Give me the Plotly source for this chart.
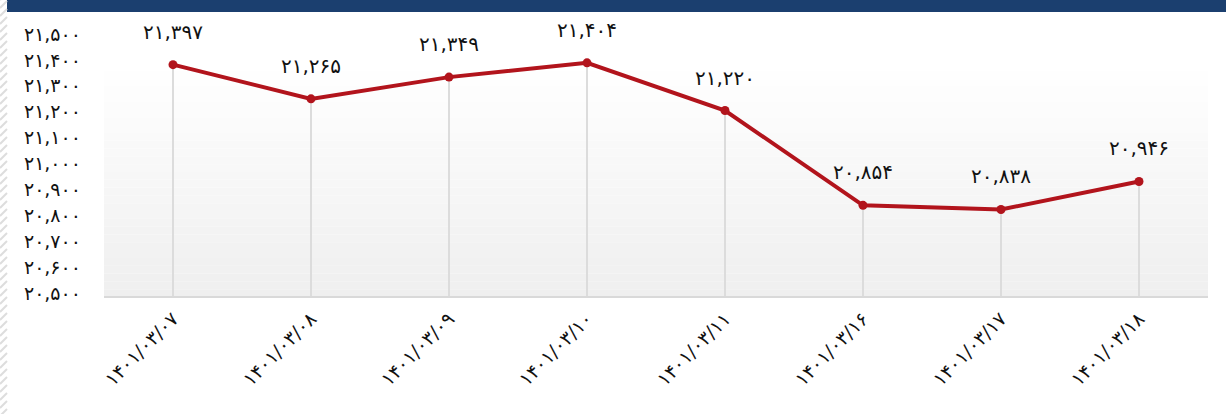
import plotly.graph_objects as go

# ---- data ----
dates = ["1401/03/07", "1401/03/08", "1401/03/09", "1401/03/10",
         "1401/03/11", "1401/03/16", "1401/03/17", "1401/03/18"]
values = [21397, 21265, 21349, 21404, 21220, 20854, 20838, 20946]
y_ticks = [20500, 20600, 20700, 20800, 20900, 21000, 21100, 21200, 21300, 21400, 21500]
y_min, y_max = 20500, 21500

FA = str.maketrans("0123456789", "۰۱۲۳۴۵۶۷۸۹")


def fa(s):
    return str(s).translate(FA)


def fa_num(v):
    return fa(f"{v:,}")


W, H = 1226, 414
L, R, T, B = 104, 1208, 38, 297
FONT = "DejaVu Sans"


def px_x(p):
    return (p - L) / (R - L)


def px_y(p):
    return (B - p) / (B - T)


fig = go.Figure()

# drop lines
fig.add_trace(go.Scatter(
    x=dates, y=values, mode="markers",
    marker=dict(size=0.1, color="rgba(0,0,0,0)"),
    error_y=dict(type="data", symmetric=False,
                 array=[0] * len(values),
                 arrayminus=[v - y_min for v in values],
                 color="#dcdcdc", thickness=2, width=0),
    hoverinfo="skip", showlegend=False,
))

# main line
fig.add_trace(go.Scatter(
    x=dates, y=values, mode="lines+markers",
    line=dict(color="#B2141C", width=4),
    marker=dict(color="#B2141C", size=9),
    showlegend=False,
))

# data labels
for d, v in zip(dates, values):
    fig.add_annotation(x=d, y=v, text=fa_num(v), showarrow=False,
                       yshift=33, font=dict(size=20, color="#111111", family=FONT))

shapes = []
# plot background gradient
n = 30
g_top = 0.905
for i in range(n):
    y0 = g_top * i / n
    y1 = g_top * (i + 1) / n
    t = i / (n - 1)  # 0 bottom -> 1 top
    c = int(round(239 + (255 - 239) * t))
    shapes.append(dict(type="rect", xref="x domain", yref="y domain",
                       x0=0, x1=1, y0=y0, y1=y1, layer="below",
                       line=dict(width=0), fillcolor=f"rgb({c},{c},{c})"))
# bottom axis line
shapes.append(dict(type="line", xref="x domain", yref="y domain",
                   x0=0, x1=1, y0=0, y1=0, line=dict(color="#d9d9d9", width=2)))
# top blue bar
shapes.append(dict(type="rect", xref="paper", yref="paper",
                   x0=px_x(7), x1=px_x(W), y0=px_y(12), y1=px_y(0),
                   line=dict(width=0), fillcolor="#1B3F6F"))
# left hatched strip
for yy in range(-8, H + 16, 8):
    shapes.append(dict(type="line", xref="paper", yref="paper",
                       x0=px_x(0), x1=px_x(7), y0=px_y(yy), y1=px_y(yy - 7),
                       line=dict(color="#dddddd", width=2)))

fig.update_layout(
    width=W, height=H,
    margin=dict(l=L, r=W - R, t=T, b=H - B, autoexpand=False),
    paper_bgcolor="white", plot_bgcolor="rgba(0,0,0,0)",
    shapes=shapes,
    font=dict(family=FONT, color="#111111"),
)
fig.update_xaxes(
    type="category", range=[-0.5, len(dates) - 0.5], automargin=False,
    tickmode="array", tickvals=dates, ticktext=[fa(d) for d in dates],
    tickangle=-45, tickfont=dict(size=19, color="#111111", family=FONT),
    showgrid=False, zeroline=False, showline=False, ticks="",
    ticklabelstandoff=6,
)
fig.update_yaxes(
    range=[y_min, y_max], automargin=False,
    tickmode="array", tickvals=y_ticks, ticktext=[fa_num(v) for v in y_ticks],
    tickfont=dict(size=19, color="#111111", family=FONT),
    showgrid=False, zeroline=False, showline=False, ticks="",
    ticklabelstandoff=22, ticklabelshift=-4,
)

fig.write_html(
    "out.html",
    config={"displayModeBar": False},
    post_script="document.body.style.margin='0';document.body.style.overflow='hidden';",
)
